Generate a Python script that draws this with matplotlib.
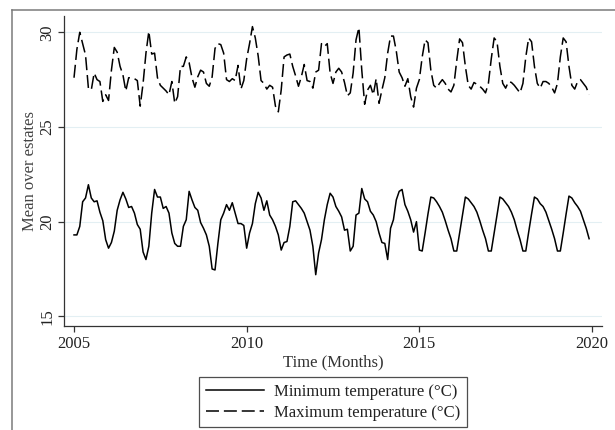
import numpy as np
import matplotlib.pyplot as plt
from matplotlib.lines import Line2D

plt.rcParams["font.family"] = ["Liberation Serif", "DejaVu Serif"]

first_year = 2005
year_ticks = [2005, 2010, 2015, 2020]
temp_ticks = [15, 20, 25, 30]
series_labels = ["Minimum temperature (\u00b0C)", "Maximum temperature (\u00b0C)"]

# monthly means over estates, Jan 2005 .. Dec 2019, one row per year
min_temp = [
    19.3, 19.3, 19.75, 21.05, 21.25, 21.95, 21.25, 21.05, 21.1, 20.5, 20.05, 19.05,
    18.6, 18.9, 19.5, 20.6, 21.15, 21.55, 21.2, 20.75, 20.8, 20.45, 19.85, 19.6,
    18.4, 18.0, 18.7, 20.45, 21.7, 21.3, 21.3, 20.7, 20.8, 20.45, 19.4, 18.85,
    18.7, 18.7, 19.75, 20.1, 21.6, 21.15, 20.75, 20.6, 19.95, 19.65, 19.3, 18.7,
    17.5, 17.45, 18.85, 20.1, 20.45, 20.9, 20.6, 21.0, 20.45, 19.9, 19.9, 19.8,
    18.6, 19.4, 19.9, 20.95, 21.55, 21.25, 20.6, 21.1, 20.35, 20.1, 19.75, 19.3,
    18.5, 18.9, 18.95, 19.75, 21.05, 21.1, 20.9, 20.7, 20.45, 20.0, 19.55, 18.7,
    17.2, 18.35, 19.05, 20.1, 20.9, 21.5, 21.3, 20.8, 20.55, 20.25, 19.55, 19.6,
    18.45, 18.7, 20.35, 20.45, 21.75, 21.2, 21.05, 20.55, 20.35, 20.0, 19.4, 18.9,
    18.85, 18.0, 19.65, 20.1, 21.15, 21.6, 21.7, 20.9, 20.55, 20.1, 19.45, 20.0,
    18.5, 18.45, 19.4, 20.4, 21.3, 21.25, 21.05, 20.8, 20.5, 20.05, 19.55, 19.1,
    18.45, 18.45, 19.4, 20.35, 21.3, 21.2, 21.0, 20.8, 20.5, 20.05, 19.55, 19.1,
    18.45, 18.45, 19.4, 20.35, 21.3, 21.2, 21.0, 20.8, 20.5, 20.1, 19.55, 19.05,
    18.45, 18.45, 19.45, 20.4, 21.3, 21.2, 20.95, 20.8, 20.5, 20.05, 19.6, 19.1,
    18.45, 18.45, 19.4, 20.4, 21.35, 21.25, 21.0, 20.8, 20.55, 20.1, 19.65, 19.1,
]
max_temp = [
    27.6, 29.1, 30.0, 29.4, 28.8, 27.05, 26.95, 27.85, 27.5, 27.4, 26.35, 26.7,
    26.4, 28.0, 29.2, 28.95, 28.2, 27.75, 26.9, 27.6, 27.6, 27.55, 27.45, 26.1,
    27.3, 28.9, 30.05, 28.85, 28.9, 27.6, 27.2, 27.05, 26.9, 26.7, 27.4, 26.25,
    26.6, 28.2, 28.2, 28.7, 28.4, 27.6, 27.1, 27.65, 28.0, 27.9, 27.3, 27.15,
    27.65, 29.15, 29.4, 29.35, 28.9, 27.5, 27.4, 27.55, 27.45, 28.25, 27.0, 27.45,
    28.6, 29.4, 30.3, 29.7, 28.75, 27.45, 27.3, 27.0, 27.2, 27.1, 26.1, 25.8,
    26.95, 28.7, 28.8, 28.85, 28.2, 27.7, 27.15, 27.65, 28.3, 27.45, 27.4, 27.05,
    27.9, 28.0, 29.4, 29.25, 29.4, 27.85, 27.3, 27.9, 28.1, 27.9, 27.35, 26.65,
    26.8, 27.85, 29.6, 30.25, 28.0, 26.2, 26.95, 27.2, 26.7, 27.55, 26.25, 26.95,
    27.6, 28.9, 29.8, 29.8, 29.0, 27.9, 27.6, 27.15, 27.55, 26.6, 26.05, 27.05,
    27.5, 28.7, 29.6, 29.45, 28.0, 27.2, 27.05, 27.3, 27.5, 27.3, 27.0, 26.85,
    27.2, 28.5, 29.65, 29.45, 28.2, 27.2, 27.0, 27.35, 27.25, 27.15, 27.0, 26.8,
    27.3, 28.6, 29.7, 29.5, 28.2, 27.3, 27.05, 27.4, 27.35, 27.2, 27.0, 26.8,
    27.3, 28.7, 29.7, 29.5, 28.2, 27.3, 27.05, 27.4, 27.4, 27.3, 27.1, 26.8,
    27.3, 28.7, 29.7, 29.5, 28.2, 27.2, 27.0, 27.4, 27.5, 27.3, 27.1, 26.7,
]

months = first_year + np.arange(len(min_temp)) / 12.0

W, H = 615, 430
fig = plt.figure(figsize=(W / 100, H / 100), dpi=100)
ax = fig.add_axes([64 / W, 1 - 326 / H, 538 / W, 310 / H])

for y in temp_ticks:
    ax.axhline(y, color="#e3eff3", linewidth=0.8, zorder=0)

ax.plot(months, min_temp, color="black", linewidth=1.1, label=series_labels[0])
ax.plot(months, max_temp, color="black", linewidth=1.1,
        dashes=(8.5, 3.2), label=series_labels[1])

ax.set_xlim(2004.71, 2020.29)
ax.set_ylim(14.49, 30.86)
ax.set_xticks(year_ticks)
ax.set_yticks(temp_ticks)
ax.set_yticklabels([str(t) for t in temp_ticks], rotation=90, va="center")

for side in ["top", "right"]:
    ax.spines[side].set_visible(False)
for side in ["left", "bottom"]:
    ax.spines[side].set_color("#333333")
    ax.spines[side].set_linewidth(0.9)

ax.tick_params(axis="both", direction="out", length=4.1, width=0.9,
               color="#333333", labelsize=12, labelcolor="#222222")
ax.tick_params(axis="x", pad=3)
ax.tick_params(axis="y", pad=2)

ax.set_xlabel("Time (Months)", fontsize=12, color="#333333", labelpad=2)
ax.set_ylabel("Mean over estates", fontsize=12, color="#444444")
ax.yaxis.set_label_coords(-0.049, 0.5)

leg = fig.legend(loc="upper center", bbox_to_anchor=(333 / W, 1 - 377 / H),
                 ncol=1, fontsize=12, frameon=True, fancybox=False,
                 handlelength=3.5, handletextpad=0.6, labelspacing=0.3,
                 borderpad=0.4, borderaxespad=0)
leg.get_frame().set_edgecolor("#222222")
leg.get_frame().set_linewidth(0.9)
for t in leg.get_texts():
    t.set_color("#222222")

# outer frame of the graph region (clipped at right and bottom)
frame_kw = dict(color="#7a7a7a", linewidth=1.1, transform=fig.transFigure)
fig.add_artist(Line2D([11.7 / W, 11.7 / W], [0, 1 - 10 / H], **frame_kw))
fig.add_artist(Line2D([11.7 / W, 1], [1 - 10 / H, 1 - 10 / H], **frame_kw))

fig.savefig("out.png", dpi=100)
